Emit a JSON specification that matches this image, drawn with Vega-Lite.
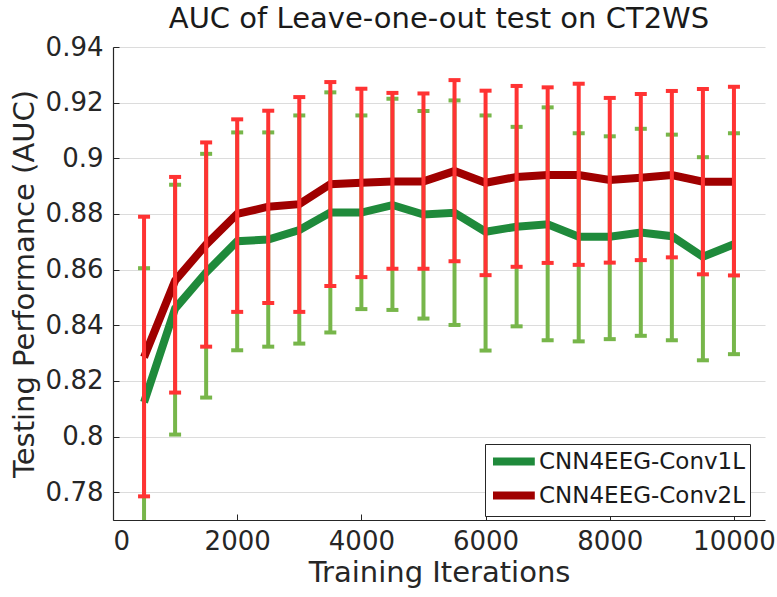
{
  "$schema": "https://vega.github.io/schema/vega-lite/v6.json",
  "autosize": {"type": "none"},
  "padding": {"left": 113, "top": 47, "right": 12, "bottom": 77},
  "width": 652,
  "height": 473,
  "background": "white",
  "title": {"text": "AUC of Leave-one-out test on CT2WS", "font": "DejaVu Sans", "fontSize": 29, "fontWeight": "normal", "color": "#1a1a1a", "offset": 0, "anchor": "middle"},
  "config": {
    "view": {"stroke": null},
    "font": "DejaVu Sans",
    "axis": {"labelFont": "DejaVu Sans", "titleFont": "DejaVu Sans", "labelColor": "#262626", "titleColor": "#262626", "titleFontWeight": "normal", "domainColor": "#262626", "tickColor": "#262626", "gridColor": "#dcdcdc", "gridWidth": 1.2}
  },
  "data": {"values": [
    {"model": "CNN4EEG-Conv1L", "iter": 500, "mean": 0.8123, "lo": 0.768, "hi": 0.8605},
    {"model": "CNN4EEG-Conv1L", "iter": 1000, "mean": 0.846, "lo": 0.8007, "hi": 0.8905},
    {"model": "CNN4EEG-Conv1L", "iter": 1500, "mean": 0.859, "lo": 0.814, "hi": 0.9016},
    {"model": "CNN4EEG-Conv1L", "iter": 2000, "mean": 0.8702, "lo": 0.831, "hi": 0.9093},
    {"model": "CNN4EEG-Conv1L", "iter": 2500, "mean": 0.8708, "lo": 0.8323, "hi": 0.9093},
    {"model": "CNN4EEG-Conv1L", "iter": 3000, "mean": 0.8742, "lo": 0.8334, "hi": 0.9154},
    {"model": "CNN4EEG-Conv1L", "iter": 3500, "mean": 0.8805, "lo": 0.8374, "hi": 0.9237},
    {"model": "CNN4EEG-Conv1L", "iter": 4000, "mean": 0.8805, "lo": 0.8458, "hi": 0.9154},
    {"model": "CNN4EEG-Conv1L", "iter": 4500, "mean": 0.8832, "lo": 0.8455, "hi": 0.9214},
    {"model": "CNN4EEG-Conv1L", "iter": 5000, "mean": 0.8798, "lo": 0.8424, "hi": 0.917},
    {"model": "CNN4EEG-Conv1L", "iter": 5500, "mean": 0.8804, "lo": 0.8401, "hi": 0.9208},
    {"model": "CNN4EEG-Conv1L", "iter": 6000, "mean": 0.8736, "lo": 0.8309, "hi": 0.9154},
    {"model": "CNN4EEG-Conv1L", "iter": 6500, "mean": 0.8754, "lo": 0.8396, "hi": 0.9113},
    {"model": "CNN4EEG-Conv1L", "iter": 7000, "mean": 0.8763, "lo": 0.8346, "hi": 0.9183},
    {"model": "CNN4EEG-Conv1L", "iter": 7500, "mean": 0.8718, "lo": 0.8342, "hi": 0.909},
    {"model": "CNN4EEG-Conv1L", "iter": 8000, "mean": 0.8718, "lo": 0.835, "hi": 0.9079},
    {"model": "CNN4EEG-Conv1L", "iter": 8500, "mean": 0.8733, "lo": 0.8362, "hi": 0.9106},
    {"model": "CNN4EEG-Conv1L", "iter": 9000, "mean": 0.872, "lo": 0.8346, "hi": 0.9085},
    {"model": "CNN4EEG-Conv1L", "iter": 9500, "mean": 0.8646, "lo": 0.8274, "hi": 0.9004},
    {"model": "CNN4EEG-Conv1L", "iter": 10000, "mean": 0.8691, "lo": 0.8296, "hi": 0.909},
    {"model": "CNN4EEG-Conv2L", "iter": 500, "mean": 0.8285, "lo": 0.7785, "hi": 0.879},
    {"model": "CNN4EEG-Conv2L", "iter": 1000, "mean": 0.856, "lo": 0.8158, "hi": 0.8933},
    {"model": "CNN4EEG-Conv2L", "iter": 1500, "mean": 0.869, "lo": 0.8323, "hi": 0.9057},
    {"model": "CNN4EEG-Conv2L", "iter": 2000, "mean": 0.88, "lo": 0.8448, "hi": 0.914},
    {"model": "CNN4EEG-Conv2L", "iter": 2500, "mean": 0.8826, "lo": 0.848, "hi": 0.9171},
    {"model": "CNN4EEG-Conv2L", "iter": 3000, "mean": 0.8835, "lo": 0.8448, "hi": 0.922},
    {"model": "CNN4EEG-Conv2L", "iter": 3500, "mean": 0.8907, "lo": 0.8541, "hi": 0.9274},
    {"model": "CNN4EEG-Conv2L", "iter": 4000, "mean": 0.8912, "lo": 0.8573, "hi": 0.925},
    {"model": "CNN4EEG-Conv2L", "iter": 4500, "mean": 0.8917, "lo": 0.8603, "hi": 0.9235},
    {"model": "CNN4EEG-Conv2L", "iter": 5000, "mean": 0.8917, "lo": 0.8603, "hi": 0.9233},
    {"model": "CNN4EEG-Conv2L", "iter": 5500, "mean": 0.8954, "lo": 0.863, "hi": 0.9281},
    {"model": "CNN4EEG-Conv2L", "iter": 6000, "mean": 0.8912, "lo": 0.858, "hi": 0.9243},
    {"model": "CNN4EEG-Conv2L", "iter": 6500, "mean": 0.8933, "lo": 0.861, "hi": 0.926},
    {"model": "CNN4EEG-Conv2L", "iter": 7000, "mean": 0.894, "lo": 0.8624, "hi": 0.9255},
    {"model": "CNN4EEG-Conv2L", "iter": 7500, "mean": 0.894, "lo": 0.8617, "hi": 0.9268},
    {"model": "CNN4EEG-Conv2L", "iter": 8000, "mean": 0.8922, "lo": 0.8625, "hi": 0.9217},
    {"model": "CNN4EEG-Conv2L", "iter": 8500, "mean": 0.893, "lo": 0.8634, "hi": 0.9231},
    {"model": "CNN4EEG-Conv2L", "iter": 9000, "mean": 0.894, "lo": 0.8644, "hi": 0.9242},
    {"model": "CNN4EEG-Conv2L", "iter": 9500, "mean": 0.8916, "lo": 0.8583, "hi": 0.9249},
    {"model": "CNN4EEG-Conv2L", "iter": 10000, "mean": 0.8916, "lo": 0.8579, "hi": 0.9257}
  ]},
  "encoding": {
    "x": {"field": "iter", "type": "quantitative", "scale": {"domain": [0, 10500], "nice": false, "zero": false},
      "axis": {"values": [0, 2000, 4000, 6000, 8000, 10000], "format": "d", "grid": false, "title": "Training Iterations", "labelFontSize": 26, "titleFontSize": 29, "tickSize": -6, "labelPadding": 14, "titlePadding": 4, "domainWidth": 1.2}}
  },
  "layer": [
    {
      "transform": [{"filter": "datum.model === 'CNN4EEG-Conv1L'"}],
      "mark": {"type": "rule", "color": "#77b64a", "strokeWidth": 4, "clip": true},
      "encoding": {
        "y": {"field": "lo", "type": "quantitative", "scale": {"domain": [0.77, 0.94], "nice": false, "zero": false},
          "axis": {"values": [0.78, 0.8, 0.82, 0.84, 0.86, 0.88, 0.9, 0.92, 0.94], "format": ".2~f", "grid": true, "title": "Testing Performance (AUC)", "labelFontSize": 26, "titleFontSize": 29, "tickSize": -6, "labelPadding": 16, "titlePadding": 6, "domainWidth": 1.2}},
        "y2": {"field": "hi"}
      }
    },
    {
      "transform": [{"filter": "datum.model === 'CNN4EEG-Conv1L' && datum.lo > 0.77"}],
      "mark": {"type": "tick", "orient": "horizontal", "color": "#77b64a", "size": 12, "thickness": 4, "opacity": 1},
      "encoding": {"y": {"field": "lo", "type": "quantitative"}}
    },
    {
      "transform": [{"filter": "datum.model === 'CNN4EEG-Conv1L'"}],
      "mark": {"type": "tick", "orient": "horizontal", "color": "#77b64a", "size": 12, "thickness": 4, "opacity": 1},
      "encoding": {"y": {"field": "hi", "type": "quantitative"}}
    },
    {
      "mark": {"type": "line", "strokeWidth": 8, "strokeJoin": "miter"},
      "encoding": {
        "y": {"field": "mean", "type": "quantitative"},
        "color": {"field": "model", "type": "nominal", "scale": {"domain": ["CNN4EEG-Conv1L", "CNN4EEG-Conv2L"], "range": ["#1f8a3b", "#a00000"]},
          "legend": {"title": null, "orient": "none", "legendX": 372, "legendY": 397, "strokeColor": "#262626", "fillColor": "white", "padding": 4, "labelFontSize": 23, "labelFont": "DejaVu Sans", "labelColor": "#1a1a1a", "labelLimit": 400, "symbolType": "M-1,0H3.4", "symbolStrokeWidth": 8, "symbolSize": 361, "labelOffset": 23, "rowPadding": 1}}
      }
    },
    {
      "transform": [{"filter": "datum.model === 'CNN4EEG-Conv2L'"}],
      "mark": {"type": "rule", "color": "#ff3333", "strokeWidth": 4, "clip": true},
      "encoding": {"y": {"field": "lo", "type": "quantitative"}, "y2": {"field": "hi"}}
    },
    {
      "transform": [{"filter": "datum.model === 'CNN4EEG-Conv2L'"}],
      "mark": {"type": "tick", "orient": "horizontal", "color": "#ff3333", "size": 12, "thickness": 4, "opacity": 1},
      "encoding": {"y": {"field": "lo", "type": "quantitative"}}
    },
    {
      "transform": [{"filter": "datum.model === 'CNN4EEG-Conv2L'"}],
      "mark": {"type": "tick", "orient": "horizontal", "color": "#ff3333", "size": 12, "thickness": 4, "opacity": 1},
      "encoding": {"y": {"field": "hi", "type": "quantitative"}}
    }
  ]
}
